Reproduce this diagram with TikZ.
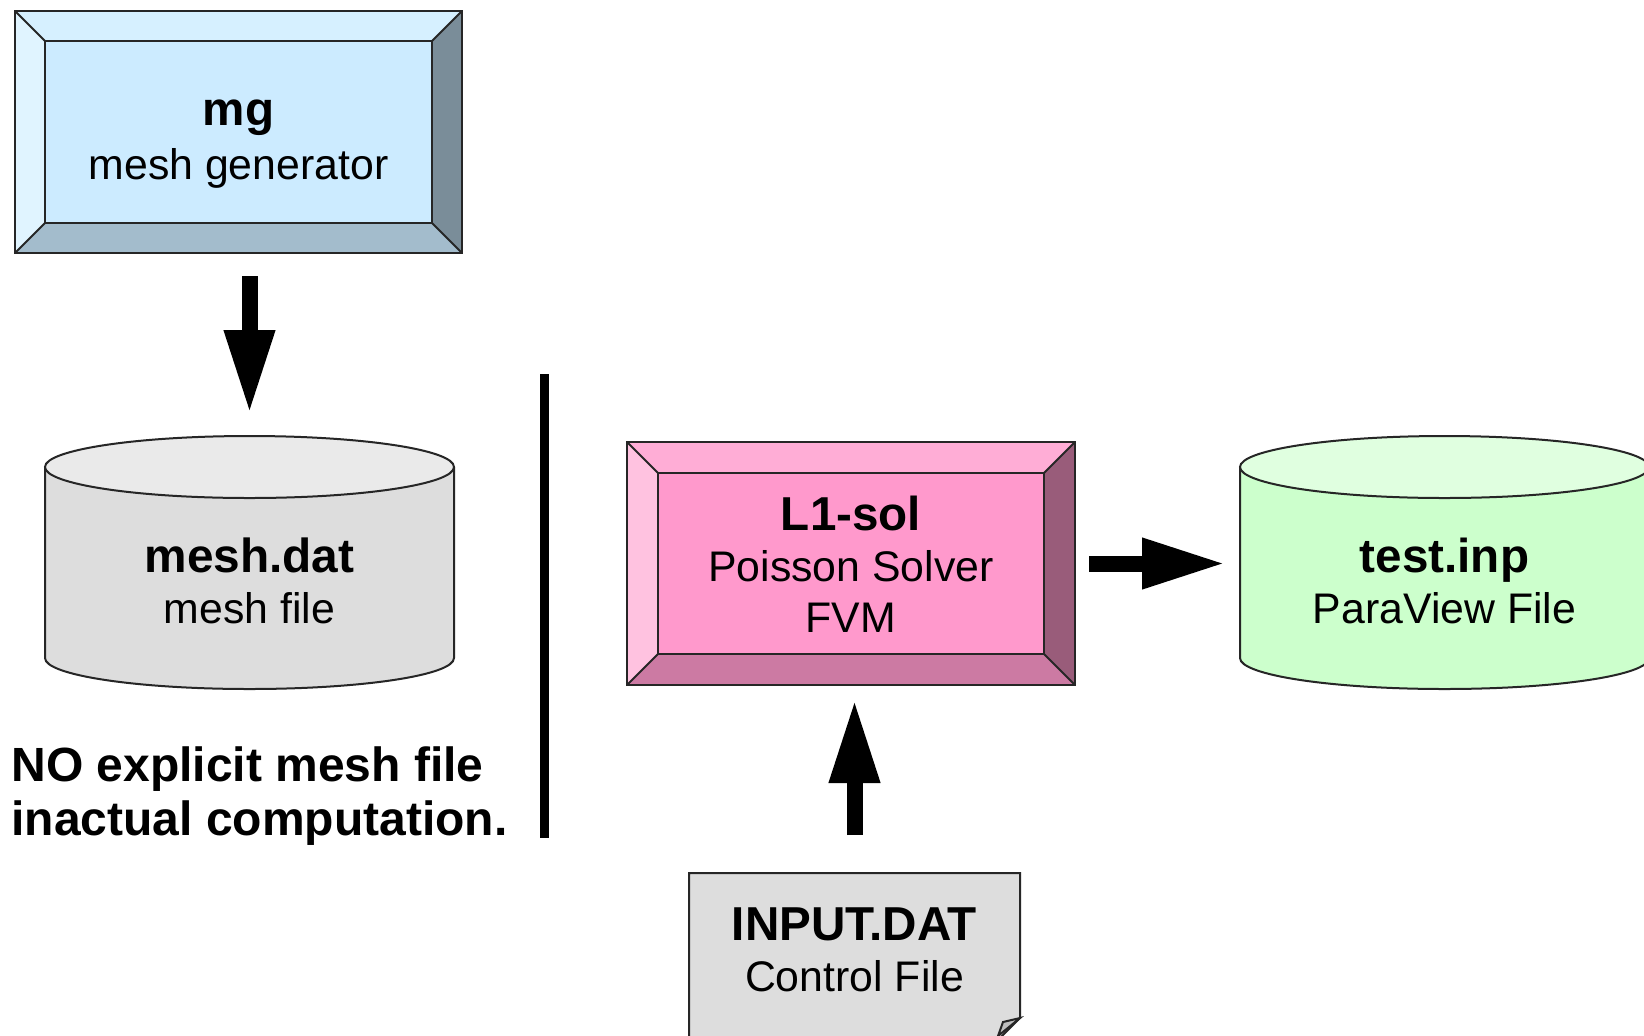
\documentclass[tikz,border=0pt]{standalone}
\usepackage{fontspec}
\setmainfont{Liberation Sans}
\usetikzlibrary{arrows.meta}
\definecolor{mgin}{HTML}{CCEBFF}
\definecolor{mgtop}{HTML}{D6F0FF}
\definecolor{mgleft}{HTML}{E0F4FF}
\definecolor{mgright}{HTML}{7A8D99}
\definecolor{mgbot}{HTML}{A3BCCC}
\definecolor{lsin}{HTML}{FF99CC}
\definecolor{lstop}{HTML}{FFADD6}
\definecolor{lsleft}{HTML}{FFC2E0}
\definecolor{lsright}{HTML}{995C7A}
\definecolor{lsbot}{HTML}{CC7AA3}
\definecolor{grbody}{HTML}{DDDDDD}
\definecolor{grtop}{HTML}{EAEAEA}
\definecolor{gnbody}{HTML}{CCFFCC}
\definecolor{gntop}{HTML}{E0FFE0}
\definecolor{flapfill}{HTML}{BFBFBF}
\newcommand\bevelbox[6]{%
 \fill[#1in] (#2+#6,#3+#6) rectangle (#4-#6,#5-#6);
 \fill[#1top] (#2,#3) -- (#4,#3) -- (#4-#6,#3+#6) -- (#2+#6,#3+#6) -- cycle;
 \fill[#1left] (#2,#3) -- (#2+#6,#3+#6) -- (#2+#6,#5-#6) -- (#2,#5) -- cycle;
 \fill[#1right] (#4,#3) -- (#4,#5) -- (#4-#6,#5-#6) -- (#4-#6,#3+#6) -- cycle;
 \fill[#1bot] (#2,#5) -- (#4,#5) -- (#4-#6,#5-#6) -- (#2+#6,#5-#6) -- cycle;
 \draw[edge] (#2,#3) rectangle (#4,#5);
 \draw[edge] (#2+#6,#3+#6) rectangle (#4-#6,#5-#6);
 \draw[edge] (#2,#3) -- (#2+#6,#3+#6) (#4,#3) -- (#4-#6,#3+#6)
   (#2,#5) -- (#2+#6,#5-#6) (#4,#5) -- (#4-#6,#5-#6);
}
\newcommand\cylshape[6]{% prefix, cx, ytop, ybot, rx, ry
 \fill[#1body] (#2-#5,#3) -- (#2-#5,#4) arc[start angle=180,end angle=0,x radius=#5,y radius=#6] -- (#2+#5,#3) -- cycle;
 \draw[edge] (#2-#5,#3) -- (#2-#5,#4) arc[start angle=180,end angle=0,x radius=#5,y radius=#6] -- (#2+#5,#3);
 \filldraw[fill=#1top, edge] (#2,#3) ellipse[x radius=#5, y radius=#6];
}
\begin{document}
\begin{tikzpicture}[x=0.5pt,y=-0.5pt,
  edge/.style={draw=black!85, line width=1pt},
  hold/.style={inner sep=0pt, outer sep=0pt},
  lbl/.style={inner sep=0pt, align=center, font=\fontsize{21.4}{25.5}\selectfont},
  blockarrow/.style={line width=8pt, -{Triangle[length=42pt,width=23.5pt]}}]
\useasboundingbox (0,0) rectangle (1644,1035);
\fill[white] (0,0) rectangle (1644,1035);

% mg box
\bevelbox{mg}{15}{11}{462}{253}{30}
\node[hold, minimum width=223.5pt, minimum height=121pt] (mg) at (238.5,132) {};
\node[lbl, font=\fontsize{21.4}{27}\selectfont] (mgtext) at (238.5,144) {{\bfseries\fontsize{23.8}{27}\selectfont mg}\\ mesh generator};

% mesh.dat cylinder
\cylshape{gr}{249.5}{467}{658}{204.5}{31}
\node[hold, minimum width=204.5pt, minimum height=127pt] (mesh) at (249.5,562) {};
\node[lbl] (meshtext) at (249.5,580.5) {{\bfseries\fontsize{23.9}{25.5}\selectfont mesh.dat}\\ mesh file};

% L1-sol box
\bevelbox{ls}{627}{442}{1075}{685}{31}
\node[hold, minimum width=224pt, minimum height=121.5pt] (ls) at (851,563.5) {};
\node[lbl] (lstext) at (851,564.5) {{\bfseries\fontsize{23.8}{25.5}\selectfont L1-sol}\\ Poisson Solver\\ FVM};

% test.inp cylinder
\cylshape{gn}{1444.5}{467}{658}{204.5}{31}
\node[hold, minimum width=204.5pt, minimum height=127pt] (out) at (1444.5,562) {};
\node[lbl] (outtext) at (1444.5,580.5) {{\bfseries\fontsize{23.8}{25.5}\selectfont test.inp}\\ ParaView File};

% INPUT.DAT document
\filldraw[fill=grbody, edge] (689,873) -- (1020,873) -- (1020,1018) -- (996,1042) -- (689,1042) -- cycle;
\filldraw[fill=flapfill, edge] (1020,1018) -- (1003,1022) -- (998,1036) -- cycle;
\node[hold, minimum width=165.5pt, minimum height=84.5pt] (inp) at (854.5,957.5) {};
\node[lbl] (inptext) at (854.5,949.5) {{\bfseries\fontsize{23.8}{25.5}\selectfont INPUT.DAT}\\ Control File};

% separator line
\coordinate (vt) at (544.5,374);
\coordinate (vb) at (544.5,838);
\draw[line width=4.5pt] (vt) -- (vb);

% note
\node[inner sep=0pt, anchor=west, align=left, font=\bfseries\fontsize{24}{27}\selectfont] (note) at (11,796) {NO explicit mesh file\\inactual computation.};

% arrows
\draw[blockarrow, shorten <=11.5pt, shorten >=10.5pt] (mg.south -| mesh.north) -- (mesh.north);
\draw[blockarrow, shorten <=7pt, shorten >=7pt] (ls.east) -- (ls.east -| out.west);
\draw[blockarrow, shorten <=19pt, shorten >=7pt] (inp.north) -- (inp.north |- ls.south);
\end{tikzpicture}
\end{document}
